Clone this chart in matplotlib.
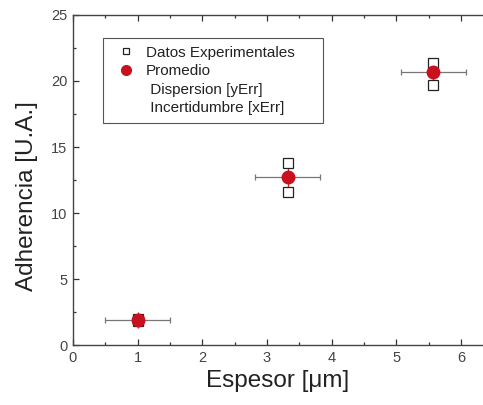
import numpy as np
import matplotlib.pyplot as plt
from matplotlib.lines import Line2D
from matplotlib.ticker import MultipleLocator

plt.rcParams['font.family'] = ['Liberation Sans', 'DejaVu Sans']

# raw measurements (two per thickness)
exp_x = [1.0, 1.0, 3.32, 3.32, 5.57, 5.57]
exp_y = [1.8, 2.0, 13.8, 11.6, 21.4, 19.7]

# averages with errors
mean_x = [1.0, 3.32, 5.57]
mean_y = [1.9, 12.7, 20.7]
x_err = [0.5, 0.5, 0.5]
y_err = [0.6, 0.9, 0.8]

fig = plt.figure(figsize=(4.83, 4.05), dpi=100)
ax = fig.add_axes([0.151, 0.148, 0.849, 0.815])

ax.errorbar(mean_x, mean_y, xerr=x_err, fmt='none', ecolor='#777777',
            elinewidth=0.9, capsize=2.5, capthick=0.9, zorder=2)
ax.errorbar(mean_x, mean_y, yerr=y_err, fmt='none', ecolor='#d02020',
            elinewidth=0.9, capsize=0, zorder=2)
ax.plot(exp_x, exp_y, 's', mfc='white', mec='#222222', ms=7, mew=0.9,
        zorder=3, label='Datos Experimentales')
ax.plot(mean_x, mean_y, 'o', color='#c8101e', ms=9, zorder=4,
        label='Promedio')

h1 = Line2D([], [], ls='none', marker='s', mfc='white', mec='#222222', ms=5, mew=0.9)
h2 = Line2D([], [], ls='none', marker='o', color='#c8101e', ms=7)
h3 = Line2D([], [], ls='none')
h4 = Line2D([], [], ls='none')
leg = ax.legend([h1, h2, h3, h4],
                ['Datos Experimentales', 'Promedio',
                 ' Dispersion [yErr]', ' Incertidumbre [xErr]'],
                loc='upper left', bbox_to_anchor=(0.073, 0.0, 0.537, 0.93),
                mode='expand',
                fontsize=11, frameon=True, fancybox=False, edgecolor='#555555',
                framealpha=1, handlelength=2.0, handletextpad=0.33,
                labelspacing=0.29, borderpad=0.5, borderaxespad=0)
leg.get_frame().set_linewidth(0.8)
for t in leg.get_texts():
    t.set_color('#222222')

ax.set_xlim(0, 6.34)
ax.set_ylim(0, 25)
ax.xaxis.set_major_locator(MultipleLocator(1))
ax.xaxis.set_minor_locator(MultipleLocator(0.5))
ax.yaxis.set_major_locator(MultipleLocator(5))
ax.yaxis.set_minor_locator(MultipleLocator(2.5))
ax.tick_params(which='both', direction='in', top=True, right=False,
               labelsize=10.5, labelcolor='#444444', color='#333333', width=0.9)
ax.tick_params(which='major', length=4, pad=4)
ax.tick_params(which='minor', length=2.5)
for s in ['left', 'bottom', 'top']:
    ax.spines[s].set_color('#444444')
    ax.spines[s].set_linewidth(1.0)
ax.spines['right'].set_visible(False)

ax.set_xlabel('Espesor [\u03bcm]', fontsize=17.5, color='#222222', labelpad=4)
ax.set_ylabel('Adherencia [U.A.]', fontsize=17.5, color='#222222')
ax.yaxis.set_label_coords(-0.085, 0.452)

fig.savefig('out.png', dpi=100)
